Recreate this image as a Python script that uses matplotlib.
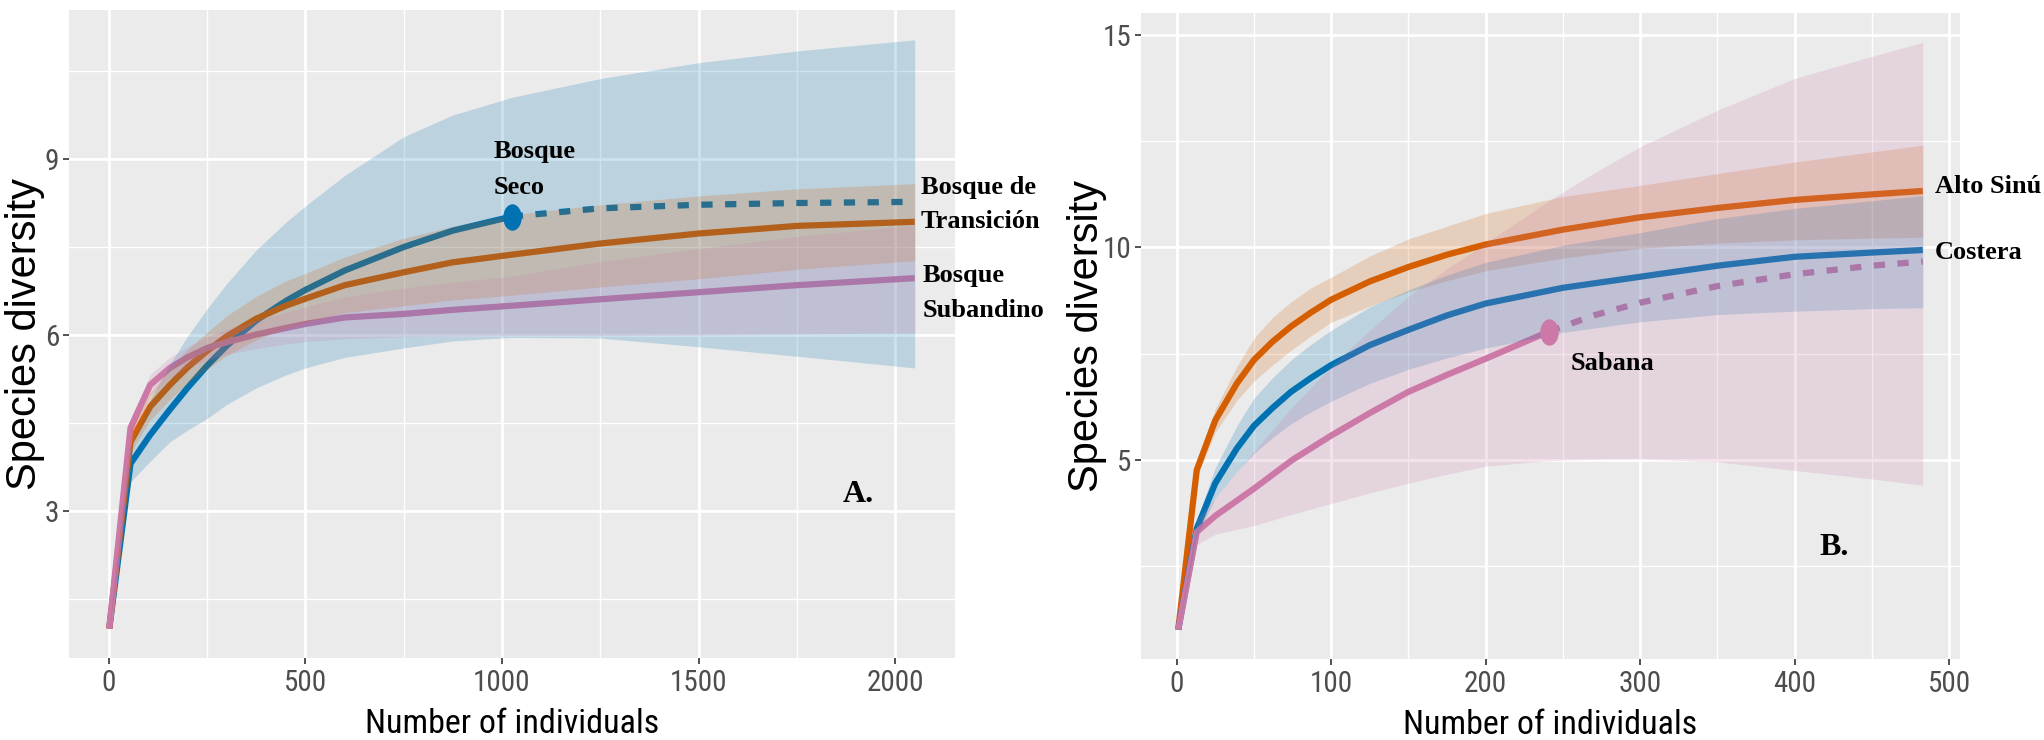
import matplotlib
matplotlib.use("Agg")
import matplotlib.pyplot as plt
from matplotlib import font_manager
from matplotlib.path import Path
from matplotlib.ticker import FixedLocator

# ---------------- Panel A data ----------------
a_x = [1, 55, 105, 155, 200, 250, 300, 375, 450, 500, 600, 750, 875, 1025, 1250, 1500, 1750, 2050]
a_seco = [1.0, 3.81, 4.30, 4.73, 5.10, 5.48, 5.82, 6.25, 6.58, 6.77, 7.10, 7.50, 7.78, 8.02,
          8.16, 8.22, 8.25, 8.27]
a_seco_lo = [1.0, 3.50, 3.85, 4.18, 4.38, 4.58, 4.82, 5.10, 5.32, 5.44, 5.62, 5.78, 5.90, 5.96,
             5.95, 5.80, 5.64, 5.44]
a_seco_hi = [1.0, 4.10, 4.90, 5.50, 5.98, 6.45, 6.88, 7.45, 7.92, 8.20, 8.72, 9.38, 9.75, 10.05,
             10.37, 10.64, 10.84, 11.03]
a_seco_obs = 1025

a_trans = [1.0, 4.18, 4.78, 5.15, 5.45, 5.73, 5.98, 6.28, 6.50, 6.62, 6.85, 7.07, 7.24, 7.37,
           7.56, 7.73, 7.86, 7.93]
a_trans_lo = [1.0, 4.00, 4.55, 4.90, 5.18, 5.42, 5.65, 5.92, 6.12, 6.22, 6.38, 6.50, 6.60, 6.68,
              6.82, 6.96, 7.12, 7.27]
a_trans_hi = [1.0, 4.38, 5.02, 5.42, 5.75, 6.05, 6.33, 6.66, 6.92, 7.05, 7.33, 7.65, 7.85, 8.05,
              8.22, 8.37, 8.49, 8.58]

a_suband = [1.0, 4.42, 5.15, 5.44, 5.62, 5.78, 5.88, 6.01, 6.12, 6.19, 6.30, 6.36, 6.43, 6.50,
            6.61, 6.73, 6.85, 6.97]
a_suband_lo = [1.0, 4.25, 4.97, 5.27, 5.45, 5.58, 5.67, 5.77, 5.85, 5.89, 5.94, 5.97, 5.98, 5.99,
               5.99, 6.00, 6.02, 6.04]
a_suband_hi = [1.0, 4.55, 5.33, 5.62, 5.80, 5.97, 6.10, 6.25, 6.38, 6.48, 6.65, 6.80, 6.90, 7.00,
               7.25, 7.47, 7.68, 7.87]

a_xticks = [0, 500, 1000, 1500, 2000]
a_xminor = [250, 750, 1250, 1750]
a_yticks = [3, 6, 9]
a_yminor = [1.5, 4.5, 7.5, 10.5]

# ---------------- Panel B data ----------------
b_x = [1, 13, 25, 39, 50, 62, 74, 87, 100, 125, 150, 175, 200, 250, 300, 350, 400, 450, 483]
b_alto = [1.0, 4.76, 5.93, 6.80, 7.35, 7.78, 8.14, 8.47, 8.77, 9.20, 9.54, 9.83, 10.07, 10.42,
          10.71, 10.93, 11.12, 11.25, 11.33]
b_alto_lo = [1.0, 4.60, 5.65, 6.40, 6.85, 7.23, 7.58, 7.92, 8.24, 8.62, 8.95, 9.22, 9.45, 9.75,
             9.98, 10.10, 10.18, 10.22, 10.24]
b_alto_hi = [1.0, 4.92, 6.20, 7.20, 7.86, 8.35, 8.72, 9.05, 9.30, 9.80, 10.20, 10.50, 10.80, 11.20,
             11.46, 11.74, 12.01, 12.25, 12.41]

b_cost = [1.0, 3.38, 4.45, 5.27, 5.80, 6.22, 6.60, 6.93, 7.23, 7.70, 8.06, 8.40, 8.68, 9.05,
          9.31, 9.57, 9.78, 9.88, 9.94]
b_cost_lo = [1.0, 3.20, 4.10, 4.72, 5.15, 5.52, 5.85, 6.13, 6.38, 6.80, 7.13, 7.40, 7.63, 8.00,
             8.25, 8.42, 8.50, 8.56, 8.58]
b_cost_hi = [1.0, 3.58, 4.82, 5.80, 6.45, 6.93, 7.35, 7.72, 8.05, 8.60, 9.00, 9.35, 9.65, 10.05,
             10.35, 10.68, 10.92, 11.10, 11.22]

b_sab_x = [1, 13, 25, 50, 75, 100, 125, 150, 175, 200, 241, 270, 300, 350, 400, 450, 483]
b_sab = [1.0, 3.30, 3.68, 4.32, 5.00, 5.57, 6.10, 6.60, 7.00, 7.38, 8.02, 8.40, 8.70, 9.09,
         9.37, 9.57, 9.67]
b_sab_lo = [1.0, 3.00, 3.25, 3.45, 3.72, 3.97, 4.22, 4.45, 4.66, 4.85, 4.98, 5.01, 5.02, 4.95,
            4.75, 4.55, 4.40]
b_sab_hi = [1.0, 3.60, 4.10, 5.20, 6.25, 7.20, 8.05, 8.85, 9.50, 10.10, 11.10, 11.75, 12.37,
            13.23, 13.98, 14.50, 14.83]
b_sab_obs = 241

b_xticks = [0, 100, 200, 300, 400, 500]
b_xminor = [50, 150, 250, 350, 450]
b_yticks = [5, 10, 15]
b_yminor = [2.5, 7.5, 12.5]

BLUE = "#0072B2"
ORANGE = "#D55E00"
PINK = "#CC79A7"

# ---------------- fonts ----------------
available = {f.name for f in font_manager.fontManager.ttflist}


def pick(*names):
    for n in names:
        if n in available:
            return n
    return "DejaVu Sans"


NARROW = pick("Liberation Sans Narrow", "Roboto Condensed", "Liberation Sans")
SANS = pick("Liberation Sans", "Arial", "DejaVu Sans")
SERIF = pick("Liberation Serif", "DejaVu Serif")

_c = Path.unit_circle()
ELLIPSE = Path(_c.vertices * [0.7, 1.0], _c.codes)

LW = 4.5
DASH = (1.8, 2.0)

fig = plt.figure(figsize=(20.44, 7.40), dpi=100)
axA = fig.add_axes([69 / 2044, (740 - 658) / 740, 886 / 2044, 647.6 / 740])
axB = fig.add_axes([1141 / 2044, (740 - 659) / 740, 819 / 2044, 646 / 740])


def expand(lo, hi):
    r = hi - lo
    return lo - 0.05 * r, hi + 0.05 * r


def style(ax, xt, xm, yt, ym, xlim, ylim, ylab_x):
    ax.set_facecolor("#EBEBEB")
    for s in ax.spines.values():
        s.set_visible(False)
    ax.set_xlim(*xlim)
    ax.set_ylim(*ylim)
    ax.xaxis.set_major_locator(FixedLocator(xt))
    ax.xaxis.set_minor_locator(FixedLocator(xm))
    ax.yaxis.set_major_locator(FixedLocator(yt))
    ax.yaxis.set_minor_locator(FixedLocator(ym))
    ax.grid(which="major", color="white", lw=2.0, zorder=0)
    ax.grid(which="minor", color="white", lw=1.0, zorder=0)
    ax.set_axisbelow(True)
    ax.tick_params(which="major", length=4, width=1.2, color="#333333",
                   labelcolor="#4D4D4D", labelsize=21)
    ax.tick_params(axis="x", which="major", pad=4)
    ax.tick_params(axis="y", which="major", pad=3)
    ax.tick_params(which="minor", length=0)
    for lab in ax.get_xticklabels() + ax.get_yticklabels():
        lab.set_family(NARROW)
    ax.set_xlabel("Number of individuals", fontsize=24.5, family=NARROW, color="black")
    ax.xaxis.label.set_va("baseline")
    ax.xaxis.set_label_coords(0.5, -(732.7 - 658) / 647.6)
    ax.set_ylabel("Species diversity", fontsize=30, family=SANS, color="black")
    ax.yaxis.label.set_va("center")
    ax.yaxis.set_label_coords(ylab_x, 0.5)


def curve(ax, x, y, lo, hi, color, obs=None):
    if obs is None:
        ax.plot(x, y, color=color, lw=LW, solid_capstyle="butt",
                solid_joinstyle="round", zorder=2)
    else:
        i = x.index(obs)
        ax.plot(x[:i + 1], y[:i + 1], color=color, lw=LW, solid_capstyle="butt",
                solid_joinstyle="round", zorder=2)
        ax.plot(x[i:], y[i:], color=color, lw=LW, ls=(0, DASH), dash_capstyle="butt", zorder=2)
    ax.fill_between(x, lo, hi, color=color, alpha=0.2, lw=0, zorder=3)
    if obs is not None:
        ax.plot([obs], [y[x.index(obs)]], marker=ELLIPSE, ms=19, color=color,
                mec="none", ls="none", zorder=4, clip_on=False)


# ---------------- Panel A ----------------
curve(axA, a_x, a_seco, a_seco_lo, a_seco_hi, BLUE, obs=a_seco_obs)
curve(axA, a_x, a_trans, a_trans_lo, a_trans_hi, ORANGE)
curve(axA, a_x, a_suband, a_suband_lo, a_suband_hi, PINK)
yA = [v for s in (a_seco_lo, a_seco_hi, a_trans_lo, a_trans_hi, a_suband_lo, a_suband_hi) for v in s]
style(axA, a_xticks, a_xminor, a_yticks, a_yminor,
      expand(min(a_x), max(a_x)), expand(min(yA), max(yA)), -0.0502)

lab = dict(family=SERIF, fontweight="bold", fontsize=19, color="black",
           ha="left", va="baseline", clip_on=False, zorder=6)
axA.text(979, 9.02, "Bosque", **lab)
axA.text(979, 8.40, "Seco", **lab)
axA.text(2066, 8.41, "Bosque de", **lab)
axA.text(2066, 7.83, "Transición", **lab)
axA.text(2069, 6.90, "Bosque", **lab)
axA.text(2069, 6.31, "Subandino", **lab)
axA.text(1906, 3.29, "A.", family=SERIF, fontweight="bold", fontsize=23,
         ha="center", va="center", zorder=6)

# ---------------- Panel B ----------------
curve(axB, b_x, b_alto, b_alto_lo, b_alto_hi, ORANGE)
curve(axB, b_x, b_cost, b_cost_lo, b_cost_hi, BLUE)
curve(axB, b_sab_x, b_sab, b_sab_lo, b_sab_hi, PINK, obs=b_sab_obs)
yB = [v for s in (b_alto_lo, b_alto_hi, b_cost_lo, b_cost_hi, b_sab_lo, b_sab_hi) for v in s]
style(axB, b_xticks, b_xminor, b_yticks, b_yminor,
      expand(min(b_x), max(b_x)), expand(min(yB), max(yB)), -0.0665)

axB.text(490.8, 11.28, "Alto Sinú", **lab)
axB.text(490.8, 9.72, "Costera", **lab)
axB.text(255.3, 7.11, "Sabana", **lab)
axB.text(425.5, 2.93, "B.", family=SERIF, fontweight="bold", fontsize=23,
         ha="center", va="center", zorder=6)

fig.savefig("out.png", dpi=100, facecolor="white")
